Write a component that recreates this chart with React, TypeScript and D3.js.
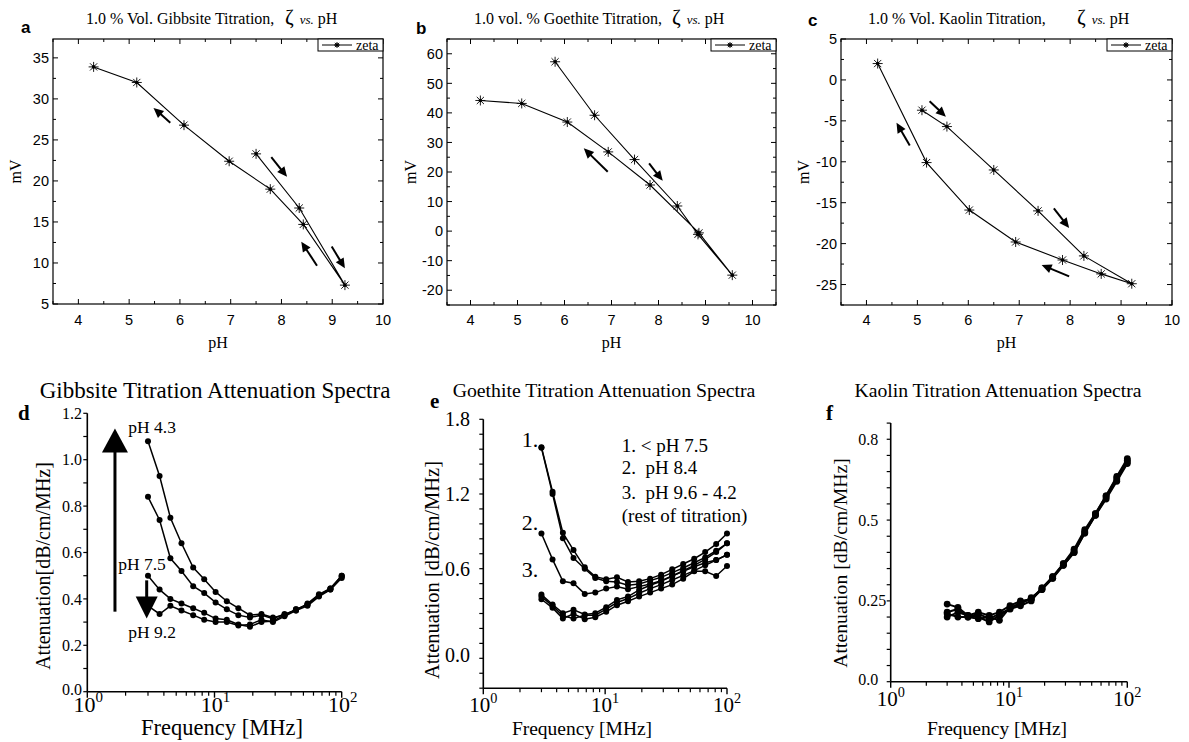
import React from 'react';
import * as d3 from 'd3';

const SERIF = '"Liberation Serif", "Times New Roman", serif';
const SANS = '"Liberation Sans", Arial, sans-serif';

// ---- zeta potential vs pH (top row), titration order ----
const GIBBSITE_PH = [7.5, 8.35, 9.25, 8.43, 7.78, 6.97, 6.08, 5.15, 4.3];
const GIBBSITE_MV = [23.3, 16.7, 7.3, 14.7, 19.0, 22.4, 26.8, 32.0, 33.9];
const GOETHITE_PH = [5.8, 6.64, 7.49, 8.4, 8.84, 9.57, 8.86, 7.82, 6.93, 6.06, 5.09, 4.21];
const GOETHITE_MV = [57.3, 39.2, 24.2, 8.5, -1.1, -14.9, -0.6, 15.6, 26.8, 36.9, 43.2, 44.2];
const KAOLIN_PH = [5.09, 5.58, 6.5, 7.37, 8.27, 9.21, 8.61, 7.85, 6.93, 6.02, 5.18, 4.22];
const KAOLIN_MV = [-3.7, -5.7, -11.0, -16.0, -21.5, -24.9, -23.7, -22.0, -19.8, -15.9, -10.1, 2.0];

// direction arrows [pH1, mV1, pH2, mV2], head at the second point
const GIBBSITE_ARROWS = [[5.81, 27.1, 5.48, 28.9], [7.8, 22.9, 8.11, 20.5], [8.7, 9.67, 8.39, 12.6], [8.99, 12.0, 9.25, 9.35]];
const GOETHITE_ARROWS = [[6.92, 20.1, 6.41, 28.0], [7.8, 22.9, 8.09, 17.0]];
const KAOLIN_ARROWS = [[5.24, -2.6, 5.56, -4.5], [4.85, -8.0, 4.59, -5.24], [7.68, -15.7, 7.98, -18.1], [7.98, -24.0, 7.44, -22.6]];

// ---- attenuation spectra (bottom row) ----
const FREQ_MHZ = [3, 3.7, 4.5, 5.5, 6.8, 8.3, 10.2, 12.5, 15.4, 19, 23.4, 28.8, 35.5, 43.7, 53.8, 66.2, 81.5, 100];

const GIBBSITE_PH43 = [1.08, 0.93, 0.75, 0.64, 0.535, 0.485, 0.43, 0.39, 0.36, 0.33, 0.335, 0.32, 0.33, 0.355, 0.375, 0.415, 0.445, 0.5];
const GIBBSITE_MID = [0.84, 0.74, 0.575, 0.52, 0.455, 0.425, 0.385, 0.355, 0.33, 0.32, 0.33, 0.315, 0.335, 0.35, 0.38, 0.42, 0.445, 0.5];
const GIBBSITE_PH75 = [0.5, 0.44, 0.4, 0.38, 0.36, 0.34, 0.315, 0.31, 0.29, 0.28, 0.3, 0.305, 0.33, 0.355, 0.375, 0.415, 0.44, 0.495];
const GIBBSITE_PH92 = [0.37, 0.335, 0.37, 0.35, 0.33, 0.31, 0.3, 0.3, 0.285, 0.29, 0.31, 0.3, 0.325, 0.35, 0.37, 0.41, 0.44, 0.49];

const GOETHITE_1A = [1.59, 1.255, 0.945, 0.815, 0.685, 0.615, 0.595, 0.61, 0.575, 0.58, 0.6, 0.63, 0.67, 0.71, 0.75, 0.8, 0.86, 0.94];
const GOETHITE_1B = [1.585, 1.238, 0.905, 0.755, 0.675, 0.605, 0.58, 0.575, 0.55, 0.56, 0.585, 0.61, 0.645, 0.68, 0.72, 0.76, 0.81, 0.866];
const GOETHITE_2 = [0.94, 0.745, 0.58, 0.565, 0.485, 0.495, 0.525, 0.54, 0.52, 0.54, 0.56, 0.585, 0.62, 0.655, 0.69, 0.72, 0.74, 0.78];
const GOETHITE_3A = [0.48, 0.405, 0.34, 0.365, 0.33, 0.34, 0.385, 0.44, 0.465, 0.515, 0.55, 0.58, 0.62, 0.66, 0.7, 0.745, 0.8, 0.866];
const GOETHITE_3B = [0.465, 0.395, 0.32, 0.3, 0.325, 0.325, 0.37, 0.42, 0.45, 0.49, 0.525, 0.555, 0.59, 0.625, 0.66, 0.7, 0.74, 0.78];
const GOETHITE_3C = [0.445, 0.38, 0.3, 0.335, 0.295, 0.31, 0.35, 0.4, 0.43, 0.465, 0.495, 0.525, 0.555, 0.6, 0.655, 0.655, 0.62, 0.695];

const KAOLIN_S1 = [0.24, 0.23, 0.205, 0.215, 0.205, 0.215, 0.235, 0.25, 0.255, 0.29, 0.325, 0.365, 0.405, 0.465, 0.52, 0.575, 0.635, 0.69];
const KAOLIN_S2 = [0.21, 0.2, 0.2, 0.195, 0.2, 0.19, 0.23, 0.24, 0.26, 0.285, 0.32, 0.36, 0.4, 0.46, 0.515, 0.57, 0.625, 0.68];
const KAOLIN_S3 = [0.2, 0.215, 0.205, 0.2, 0.185, 0.205, 0.225, 0.235, 0.25, 0.29, 0.32, 0.365, 0.41, 0.47, 0.52, 0.575, 0.63, 0.685];
const KAOLIN_S4 = [0.215, 0.225, 0.2, 0.21, 0.195, 0.21, 0.225, 0.245, 0.255, 0.285, 0.325, 0.36, 0.4, 0.46, 0.515, 0.565, 0.62, 0.675];

const D_Y_TICKS = [0, 0.2, 0.4, 0.6, 0.8, 1.0, 1.2];
const D_Y_LABELS = ['0.0', '0.2', '0.4', '0.6', '0.8', '1.0', '1.2'];
const E_Y_TICKS = [0, 0.675, 1.2375, 1.8];
const E_Y_LABELS = ['0.0', '0.6', '1.2', '1.8'];
const F_Y_TICKS = [0, 0.25, 0.5, 0.75];
const F_Y_LABELS = ['0.0', '0.25', '0.5', '0.8'];

function ArrowMark({ x1, y1, x2, y2, len = 9, half = 4, w = 1.6 }) {
  const dx = x2 - x1, dy = y2 - y1;
  const L = Math.hypot(dx, dy);
  const ux = dx / L, uy = dy / L;
  const bx = x2 - ux * len, by = y2 - uy * len;
  const px = -uy * half, py = ux * half;
  return (
    <g>
      <line x1={x1} y1={y1} x2={bx + ux} y2={by + uy} stroke="#000" strokeWidth={w} />
      <path d={`M${x2},${y2}L${bx + px},${by + py}L${bx - px},${by - py}Z`} fill="#000" />
    </g>
  );
}

function Star({ cx, cy, r = 5 }) {
  const k = r * 0.72;
  return (
    <g transform={`translate(${cx},${cy})`} stroke="#000" strokeWidth={0.9}>
      <path d={`M${-r},0H${r}M0,${-r}V${r}M${-k},${-k}L${k},${k}M${-k},${k}L${k},${-k}`} fill="none" />
      <circle r={1.8} fill="#000" stroke="none" />
    </g>
  );
}

const stepRange = (lo, hi, step) =>
  d3.range(Math.ceil(lo / step - 1e-9) * step, hi + 1e-9, step).map(v => +v.toFixed(6));

function ZetaPanel({ cfg }) {
  const { left, right, top, bottom, xDomain, yDomain, yMajor, yMinor, ph, mv, arrows } = cfg;
  const x = d3.scaleLinear().domain(xDomain).range([left, right]);
  const y = d3.scaleLinear().domain(yDomain).range([bottom, top]);
  const xMaj = stepRange(4, xDomain[1], 1);
  const xMin = stepRange(xDomain[0], xDomain[1], 0.5).filter(v => !xMaj.includes(v));
  const yMaj = stepRange(yDomain[0], yDomain[1], yMajor);
  const yMin = stepRange(yDomain[0], yDomain[1], yMinor).filter(v => !yMaj.includes(v));
  const line = d3.line<number>().x((_, i) => x(ph[i])).y(d => y(d));
  const cx = (left + right) / 2;
  return (
    <g>
      <rect x={left} y={top} width={right - left} height={bottom - top} fill="none" stroke="#000" strokeWidth={1.2} />
      {xMaj.map(v => (
        <g key={'xM' + v}>
          <line x1={x(v)} x2={x(v)} y1={bottom} y2={bottom - 5} stroke="#000" />
          <line x1={x(v)} x2={x(v)} y1={top} y2={top + 5} stroke="#000" />
          <text x={x(v)} y={325} textAnchor="middle" fontFamily={SANS} fontSize={14.5}>{v}</text>
        </g>
      ))}
      {xMin.map(v => (
        <g key={'xm' + v}>
          <line x1={x(v)} x2={x(v)} y1={bottom} y2={bottom - 3} stroke="#000" />
          <line x1={x(v)} x2={x(v)} y1={top} y2={top + 3} stroke="#000" />
        </g>
      ))}
      {yMaj.map(v => (
        <g key={'yM' + v}>
          <line x1={left} x2={left + 5} y1={y(v)} y2={y(v)} stroke="#000" />
          <line x1={right} x2={right - 5} y1={y(v)} y2={y(v)} stroke="#000" />
          <text x={left - 4} y={y(v)} dy="0.36em" textAnchor="end" fontFamily={SANS} fontSize={14.5}>{v}</text>
        </g>
      ))}
      {yMin.map(v => (
        <g key={'ym' + v}>
          <line x1={left} x2={left + 3} y1={y(v)} y2={y(v)} stroke="#000" />
          <line x1={right} x2={right - 3} y1={y(v)} y2={y(v)} stroke="#000" />
        </g>
      ))}
      <path d={line(mv) || ''} fill="none" stroke="#000" strokeWidth={1.1} />
      {mv.map((d, i) => <Star key={i} cx={x(ph[i])} cy={y(d)} />)}
      {arrows.map((a, i) => (
        <ArrowMark key={i} x1={x(a[0])} y1={y(a[1])} x2={x(a[2])} y2={y(a[3])} len={10} half={4.6} w={2} />
      ))}
      {/* legend */}
      <rect x={right - 65} y={top} width={65} height={12} fill="#fff" stroke="#000" strokeWidth={1} />
      <line x1={right - 61} x2={right - 31} y1={top + 6} y2={top + 6} stroke="#000" />
      <Star cx={right - 46} cy={top + 6} r={3} />
      <text x={right - 27} y={top + 10.5} fontFamily={SERIF} fontSize={14}>zeta</text>
      {/* titles */}
      <text x={cfg.titleX} y={24} fontFamily={SERIF} fontSize={16}>{cfg.title}</text>
      <text x={cfg.zetaX} y={24} fontFamily={SERIF} fontSize={21}>ζ
        <tspan dx={6} fontSize={13} fontStyle="italic">vs.</tspan>
        <tspan dx={4} fontSize={16}>pH</tspan>
      </text>
      <text x={cfg.labelX} y={cfg.labelY} fontFamily={SANS} fontWeight="bold" fontSize={17}>{cfg.id}</text>
      <text transform={`translate(${cfg.mvX},${(top + bottom) / 2}) rotate(-90)`} textAnchor="middle" dy="0.35em" fontFamily={SERIF} fontSize={16}>mV</text>
      <text x={cx} y={348} textAnchor="middle" fontFamily={SERIF} fontSize={16}>pH</text>
    </g>
  );
}

function SpectraPanel({ cfg }) {
  const { x0, x1, yTop, yBottom, yDomain, yMinorStep, yTicks, yLabels, series, r, lw } = cfg;
  const x = d3.scaleLog().domain([1, 100]).range([x0, x1]);
  const y = d3.scaleLinear().domain(yDomain).range([yBottom, yTop]);
  const yMin = stepRange(yDomain[0], yDomain[1], yMinorStep);
  const xMinor = [2, 3, 4, 5, 6, 7, 8, 9, 20, 30, 40, 50, 60, 70, 80, 90];
  const line = d3.line<number>().x((_, i) => x(FREQ_MHZ[i])).y(d => y(d));
  return (
    <g>
      <line x1={x0} x2={x0} y1={yTop} y2={yBottom} stroke="#000" strokeWidth={1.6} />
      <line x1={x0} x2={x1} y1={yBottom} y2={yBottom} stroke="#000" strokeWidth={1.6} />
      {yMin.map(v => (
        <line key={'ym' + v} x1={x0 - 4} x2={x0} y1={y(v)} y2={y(v)} stroke="#000" strokeWidth={1.2} />
      ))}
      {yTicks.map((v, i) => (
        <text key={'yl' + v} x={cfg.yLabelX} y={y(v)} dy={i === 0 ? '0.2em' : '0.35em'} textAnchor={cfg.yLabelAnchor}
          fontFamily={SERIF} fontSize={cfg.yTickSize}>{yLabels[i]}</text>
      ))}
      {xMinor.map(v => (
        <line key={'xm' + v} x1={x(v)} x2={x(v)} y1={yBottom} y2={yBottom + 4} stroke="#000" strokeWidth={1.2} />
      ))}
      {[1, 10, 100].map((v, i) => (
        <g key={'xM' + v}>
          <line x1={x(v)} x2={x(v)} y1={yBottom} y2={yBottom + 6} stroke="#000" strokeWidth={1.4} />
          <text x={x(v) + cfg.xLabelShift} y={cfg.xLabelY} textAnchor="middle" fontFamily={SERIF} fontSize={cfg.xTickSize}>10
            <tspan dy={-cfg.xTickSize * 0.45} fontSize={cfg.xTickSize * 0.68}>{i}</tspan>
          </text>
        </g>
      ))}
      {series.map((s, k) => (
        <g key={k}>
          <path d={line(s) || ''} fill="none" stroke="#000" strokeWidth={lw} />
          {s.map((d, i) => <circle key={i} cx={x(FREQ_MHZ[i])} cy={y(d)} r={r} fill="#000" />)}
        </g>
      ))}
      <text x={cfg.titleCx} y={cfg.titleY} textAnchor="middle" fontFamily={SERIF} fontSize={cfg.titleSize}>{cfg.title}</text>
      <text x={cfg.labelX} y={cfg.labelY} fontFamily={SERIF} fontWeight="bold" fontSize={21}>{cfg.id}</text>
      <text transform={`translate(${cfg.yTitleX},${cfg.yTitleCy}) rotate(-90)`} textAnchor="middle" dy="0.35em"
        fontFamily={SERIF} fontSize={cfg.yTitleSize}>{cfg.yTitle}</text>
      <text x={cfg.xTitleCx} y={735} textAnchor="middle" fontFamily={SERIF} fontSize={cfg.xTitleSize}>Frequency [MHz]</text>
      {cfg.extra && cfg.extra(x, y)}
    </g>
  );
}

const ZETA = [
  { id: 'a', left: 53, right: 383, top: 39, bottom: 304, xDomain: [3.5, 10], yDomain: [5, 37.3], yMajor: 5, yMinor: 2.5,
    ph: GIBBSITE_PH, mv: GIBBSITE_MV, arrows: GIBBSITE_ARROWS, title: '1.0 % Vol. Gibbsite Titration,', titleX: 86, zetaX: 285,
    labelX: 21, labelY: 33, mvX: 15 },
  { id: 'b', left: 447, right: 776, top: 39, bottom: 305, xDomain: [3.5, 10.5], yDomain: [-25, 65], yMajor: 10, yMinor: 5,
    ph: GOETHITE_PH, mv: GOETHITE_MV, arrows: GOETHITE_ARROWS, title: '1.0 vol. % Goethite Titration,', titleX: 474, zetaX: 672,
    labelX: 416, labelY: 34, mvX: 410 },
  { id: 'c', left: 841, right: 1172, top: 39, bottom: 305, xDomain: [3.5, 10], yDomain: [-27.5, 5], yMajor: 5, yMinor: 2.5,
    ph: KAOLIN_PH, mv: KAOLIN_MV, arrows: KAOLIN_ARROWS, title: '1.0 % Vol. Kaolin Titration,', titleX: 868, zetaX: 1077,
    labelX: 808, labelY: 26, mvX: 803 },
];

const SPECTRA = [
  { id: 'd', x0: 87.3, x1: 341.7, yTop: 413.3, yBottom: 691.7, yDomain: [0, 1.2], yMinorStep: 0.1,
    yTicks: D_Y_TICKS, yLabels: D_Y_LABELS, yLabelX: 82, yLabelAnchor: 'end', yTickSize: 16,
    series: [GIBBSITE_PH43, GIBBSITE_MID, GIBBSITE_PH75, GIBBSITE_PH92], r: 3, lw: 1.5,
    xTickSize: 22, xLabelY: 712, xLabelShift: 1, title: 'Gibbsite Titration Attenuation Spectra', titleCx: 215, titleY: 398, titleSize: 23,
    labelX: 18, labelY: 420, yTitle: 'Attenuation[dB/cm/MHz]', yTitleX: 43, yTitleCy: 566, yTitleSize: 20,
    xTitleCx: 222, xTitleSize: 22.5,
    extra: (x, y) => (
      <g fontFamily={SERIF} fontSize={17.5}>
        <ArrowMark x1={x(1.65)} y1={y(0.345)} x2={x(1.65)} y2={y(1.135)} len={24} half={13} w={3} />
        <ArrowMark x1={x(2.93)} y1={y(0.48)} x2={x(2.93)} y2={y(0.316)} len={22} half={11} w={3} />
        <text x={x(2.1)} y={y(1.114)}>pH 4.3</text>
        <text x={x(1.75)} y={y(0.525)}>pH 7.5</text>
        <text x={x(2.1)} y={y(0.23)}>pH 9.2</text>
      </g>
    ) },
  { id: 'e', x0: 483.3, x1: 727, yTop: 419.3, yBottom: 688.2, yDomain: [-0.225, 1.8], yMinorStep: 0.1125,
    yTicks: E_Y_TICKS, yLabels: E_Y_LABELS, yLabelX: 470, yLabelAnchor: 'end', yTickSize: 20,
    series: [GOETHITE_1A, GOETHITE_1B, GOETHITE_2, GOETHITE_3A, GOETHITE_3B, GOETHITE_3C], r: 3, lw: 1.5,
    xTickSize: 21, xLabelY: 712, xLabelShift: 0, title: 'Goethite Titration Attenuation Spectra', titleCx: 604, titleY: 397, titleSize: 19.8,
    labelX: 430, labelY: 408, yTitle: 'Attenuation [dB/cm/MHz]', yTitleX: 432, yTitleCy: 570, yTitleSize: 20.5,
    xTitleCx: 582, xTitleSize: 19.5,
    extra: (x, y) => (
      <g fontFamily={SERIF}>
        <text x={x(2.07)} y={y(1.59)} fontSize={22}>1.</text>
        <text x={x(2.07)} y={y(0.966)} fontSize={22}>2.</text>
        <text x={x(2.07)} y={y(0.61)} fontSize={22}>3.</text>
        <g fontSize={19}>
          <text x={x(13.7)} y={y(1.556)} xmlSpace="preserve">1. &lt; pH 7.5</text>
          <text x={x(13.7)} y={y(1.388)} xmlSpace="preserve">2.  pH 8.4</text>
          <text x={x(13.7)} y={y(1.197)} xmlSpace="preserve">3.  pH 9.6 - 4.2</text>
          <text x={x(13.7)} y={y(1.029)}>(rest of titration)</text>
        </g>
      </g>
    ) },
  { id: 'f', x0: 890.7, x1: 1127.3, yTop: 423.1, yBottom: 681.7, yDomain: [0, 0.8], yMinorStep: 0.05,
    yTicks: F_Y_TICKS, yLabels: F_Y_LABELS, yLabelX: 858.3, yLabelAnchor: 'start', yTickSize: 16,
    series: [KAOLIN_S1, KAOLIN_S2, KAOLIN_S3, KAOLIN_S4], r: 3.4, lw: 2,
    xTickSize: 21, xLabelY: 706, xLabelShift: 0, title: 'Kaolin Titration Attenuation Spectra', titleCx: 998, titleY: 397, titleSize: 19.7,
    labelX: 826, labelY: 420, yTitle: 'Attenuation [dB/cm/MHz]', yTitleX: 840, yTitleCy: 563, yTitleSize: 19.7,
    xTitleCx: 997, xTitleSize: 19.5 },
];

export default function App() {
  return (
    <svg width={1189} height={742} viewBox="0 0 1189 742"
      style={{ position: 'absolute', left: 0, top: 0, background: '#fff', display: 'block' }}>
      <rect width={1189} height={742} fill="#fff" />
      {ZETA.map(c => <ZetaPanel key={c.id} cfg={c} />)}
      {SPECTRA.map(c => <SpectraPanel key={c.id} cfg={c} />)}
    </svg>
  );
}
